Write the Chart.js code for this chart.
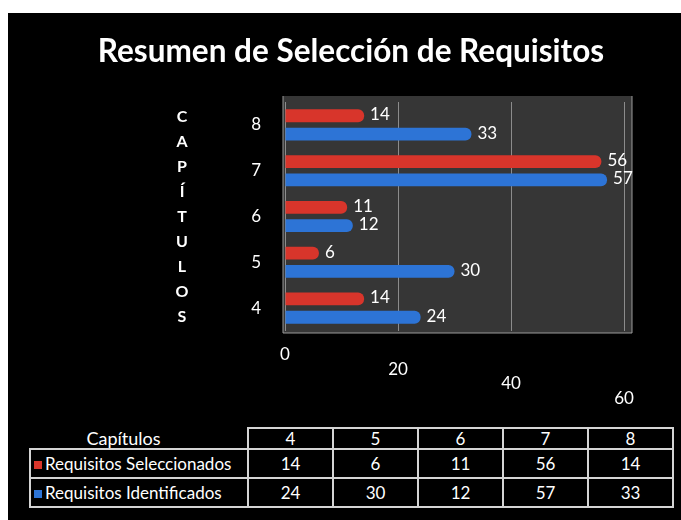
<!DOCTYPE html>
<html>
<head>
<meta charset="utf-8">
<script src="https://cdn.jsdelivr.net/npm/chart.js@4.4.1/dist/chart.umd.min.js"></script>
<style>
  html, body { margin: 0; padding: 0; background: #fff; }
  #panel { position: absolute; left: 8px; top: 13px; width: 673px; height: 507px; background: #000; overflow: hidden; }
  #chartBox { position: absolute; left: 0; top: 0; width: 673px; height: 410px; }
  #dataTable { position: absolute; left: 21px; top: 414px; width: 643px; table-layout: fixed; border-collapse: collapse; color: #fff; font-family: Lato, sans-serif; font-size: 17px; }
  #dataTable td { border: 2px solid #d4d4d4; text-align: center; padding: 0; overflow: hidden; }
  #dataTable td.lbl { text-align: left; padding-left: 3px; white-space: nowrap; }
  #dataTable tr.head td { height: 19px; line-height: 19px; }
  #dataTable tr.head td.lbl { border: none; text-align: center; padding: 0 30px 0 0; font-size: 18px; }
  #dataTable tr.body td { height: 27px; }
  .sw { display: inline-block; width: 8px; height: 8px; margin-right: 3px; vertical-align: 1px; }
</style>
</head>
<body>
<div id="panel">
  <div id="chartBox"><canvas id="barChart"></canvas></div>
  <table id="dataTable">
    <colgroup><col style="width:218px"><col style="width:85px"><col style="width:85px"><col style="width:85px"><col style="width:85px"><col style="width:85px"></colgroup>
    <tbody id="tableBody"></tbody>
  </table>
</div>
<script>
const categories = ['4', '5', '6', '7', '8'];
const seleccionados = [14, 6, 11, 56, 14];
const identificados = [24, 30, 12, 57, 33];
const xTicks = [0, 20, 40, 60];
const seriesNames = ['Requisitos Seleccionados', 'Requisitos Identificados'];
const seriesColors = ['#d8352b', '#2d74d6'];
const chartTitle = 'Resumen de Selección de Requisitos';
const axisLetters = ['C', 'A', 'P', 'Í', 'T', 'U', 'L', 'O', 'S'];

Chart.defaults.font.family = 'Lato, sans-serif';
Chart.defaults.color = '#ffffff';

// dark back wall behind the bars
const wallPlugin = {
    id: 'wall',
    beforeDraw(chart) {
        const a = chart.chartArea;
        const c = chart.ctx;
        c.save();
        c.fillStyle = '#363636';
        c.fillRect(a.left - 2, a.top - 6, a.right - a.left + 10, a.bottom - a.top + 8);
        c.strokeStyle = '#9a9a9a';
        c.lineWidth = 1;
        c.beginPath();
        c.moveTo(a.left - 2, a.top - 6);
        c.lineTo(a.left - 2, a.bottom + 2);
        c.lineTo(a.right + 8, a.bottom + 2);
        c.lineTo(a.right + 8, a.top - 6);
        c.stroke();
        c.restore();
    }
};

// title, value labels, vertical axis title and stepped x tick labels
const textPlugin = {
    id: 'texts',
    afterDraw(chart) {
        const c = chart.ctx;
        const a = chart.chartArea;
        c.save();
        c.fillStyle = '#ffffff';
        c.textBaseline = 'middle';

        c.textAlign = 'center';
        c.font = 'bold 31.5px Lato, sans-serif';
        c.fillText(chartTitle, 343, 39);

        c.font = '17px Lato, sans-serif';
        c.textAlign = 'left';
        chart.data.datasets.forEach((ds, di) => {
            chart.getDatasetMeta(di).data.forEach((bar, i) => {
                c.fillText(String(ds.data[i]), bar.x + 6, bar.y - 1);
            });
        });

        c.font = 'bold 16px Lato, sans-serif';
        c.textAlign = 'center';
        const mid = (a.top + a.bottom) / 2;
        const step = 25;
        axisLetters.forEach((ch, i) => {
            c.fillText(ch, 174, mid + (i - (axisLetters.length - 1) / 2) * step);
        });

        const xs = chart.scales.x;
        c.font = '17px Lato, sans-serif';
        xTicks.forEach((v, i) => {
            c.fillText(String(v), xs.getPixelForValue(v), a.bottom + 24 + i * 14.5);
        });
        c.restore();
    }
};

new Chart(document.getElementById('barChart').getContext('2d'), {
    type: 'bar',
    data: {
        labels: categories,
        datasets: [
            {
                label: seriesNames[0],
                data: seleccionados,
                backgroundColor: seriesColors[0],
                borderRadius: 6,
                borderSkipped: 'start'
            },
            {
                label: seriesNames[1],
                data: identificados,
                backgroundColor: seriesColors[1],
                borderRadius: 6,
                borderSkipped: 'start'
            }
        ]
    },
    options: {
        indexAxis: 'y',
        responsive: true,
        maintainAspectRatio: false,
        animation: false,
        datasets: {
            bar: { categoryPercentage: 0.8, barPercentage: 0.7 }
        },
        layout: { padding: { left: 0, right: 57, top: 89, bottom: 0 } },
        plugins: {
            legend: { display: false },
            tooltip: { enabled: false },
            title: { display: false }
        },
        scales: {
            x: {
                min: 0,
                max: 60,
                afterBuildTicks: s => { s.ticks = xTicks.map(v => ({ value: v })); },
                afterFit: s => { s.height = 92; },
                ticks: { display: false },
                border: { display: false },
                grid: { color: '#8c8c8c', lineWidth: 1, drawTicks: false }
            },
            y: {
                reverse: true,
                afterFit: s => { s.width = 277; },
                ticks: { color: '#ffffff', font: { size: 17 }, padding: 24 },
                border: { display: false },
                grid: { display: false, drawTicks: false }
            }
        }
    },
    plugins: [wallPlugin, textPlugin]
});

// data table under the chart
let html = '<tr class="head"><td class="lbl">Capítulos</td>' +
    categories.map(c => '<td>' + c + '</td>').join('') + '</tr>';
[seleccionados, identificados].forEach((vals, k) => {
    html += '<tr class="body"><td class="lbl"><span class="sw" style="background:' + seriesColors[k] + '"></span>' +
        seriesNames[k] + '</td>' + vals.map(v => '<td>' + v + '</td>').join('') + '</tr>';
});
document.getElementById('tableBody').innerHTML = html;
</script>
</body>
</html>
